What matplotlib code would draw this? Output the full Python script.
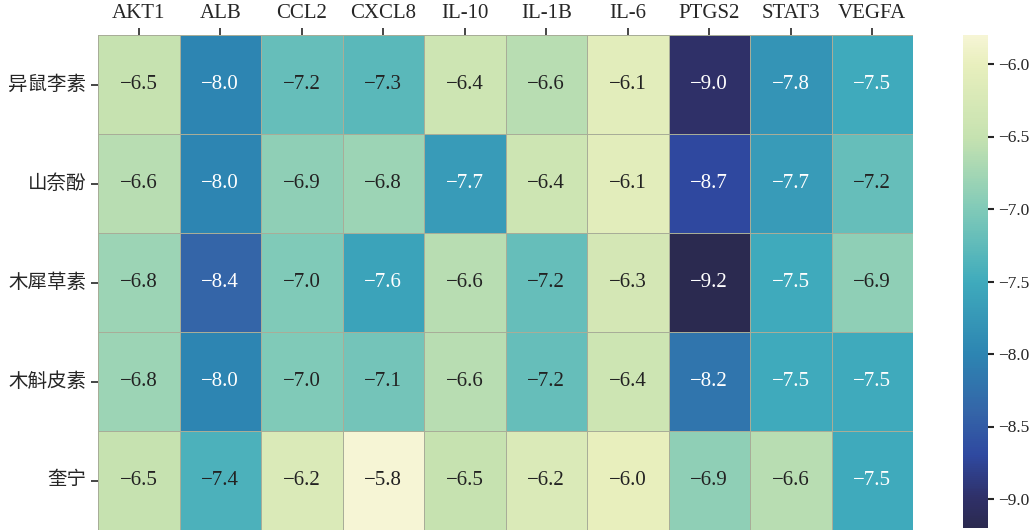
import numpy as np
import matplotlib
matplotlib.use('Agg')
import matplotlib.pyplot as plt
from matplotlib.colors import LinearSegmentedColormap
import seaborn as sns

sns.set_style('ticks')
plt.rcParams['font.family'] = ['Liberation Serif', 'Noto Sans CJK SC', 'DejaVu Sans']
plt.rcParams['axes.unicode_minus'] = True

# 分子对接结合能
compounds = ['异鼠李素', '山奈酚', '木犀草素', '木斛皮素', '奎宁']
targets = ['AKT1', 'ALB', 'CCL2', 'CXCL8', 'IL-10', 'IL-1B', 'IL-6', 'PTGS2', 'STAT3', 'VEGFA']
row_1 = [-6.5, -8.0, -7.2, -7.3, -6.4, -6.6, -6.1, -9.0, -7.8, -7.5]
row_2 = [-6.6, -8.0, -6.9, -6.8, -7.7, -6.4, -6.1, -8.7, -7.7, -7.2]
row_3 = [-6.8, -8.4, -7.0, -7.6, -6.6, -7.2, -6.3, -9.2, -7.5, -6.9]
row_4 = [-6.8, -8.0, -7.0, -7.1, -6.6, -7.2, -6.4, -8.2, -7.5, -7.5]
row_5 = [-6.5, -7.4, -6.2, -5.8, -6.5, -6.2, -6.0, -6.9, -6.6, -7.5]
cbar_ticks = [-6.0, -6.5, -7.0, -7.5, -8.0, -8.5, -9.0]

data = np.array([row_1, row_2, row_3, row_4, row_5])
labels = np.vectorize(lambda v: f'{v:.1f}'.replace('-', '\u2212'))(data)

# 略微褪色的 YlGnBu_r
vmin, vmax = data.min(), data.max()
stops = [(-9.2, '#2b2a50'), (-9.0, '#2f3068'), (-8.7, '#2f49a0'), (-8.4, '#3465a8'),
         (-8.0, '#2d85b2'), (-7.5, '#3fabbc'), (-7.0, '#80cab8'), (-6.5, '#c6e2b0'),
         (-6.0, '#e8efbd'), (-5.8, '#f6f5d5')]
cmap = LinearSegmentedColormap.from_list(
    'ygb', [((v - vmin) / (vmax - vmin), c) for v, c in stops])

fig = plt.figure(figsize=(10.36, 5.32), dpi=100)
ax = fig.add_axes([98 / 1036, 2 / 532, 815 / 1036, 495 / 532])
cax = fig.add_axes([963 / 1036, 4 / 532, 25 / 1036, 493 / 532])

sns.heatmap(data, ax=ax, cbar_ax=cax, cmap=cmap, vmin=vmin, vmax=vmax,
            annot=labels, fmt='', annot_kws={'fontsize': 15},
            linewidths=0.5, linecolor='#a8ad98',
            xticklabels=targets, yticklabels=compounds)

for t, v in zip(ax.texts, data.flatten()):
    t.set_color('white' if v <= -7.5 else '#222222')

ax.xaxis.tick_top()
ax.tick_params(axis='x', labelsize=15, length=5, width=1.2, rotation=0)
ax.tick_params(axis='y', labelsize=14, length=5, width=1.2, rotation=0)
cax.set_yticks(cbar_ticks)
cax.set_yticklabels(['\u2212%.1f' % abs(t) for t in cbar_ticks])
cax.tick_params(labelsize=12.5, length=4, width=1.5)

plt.savefig('out.png', dpi=100)
